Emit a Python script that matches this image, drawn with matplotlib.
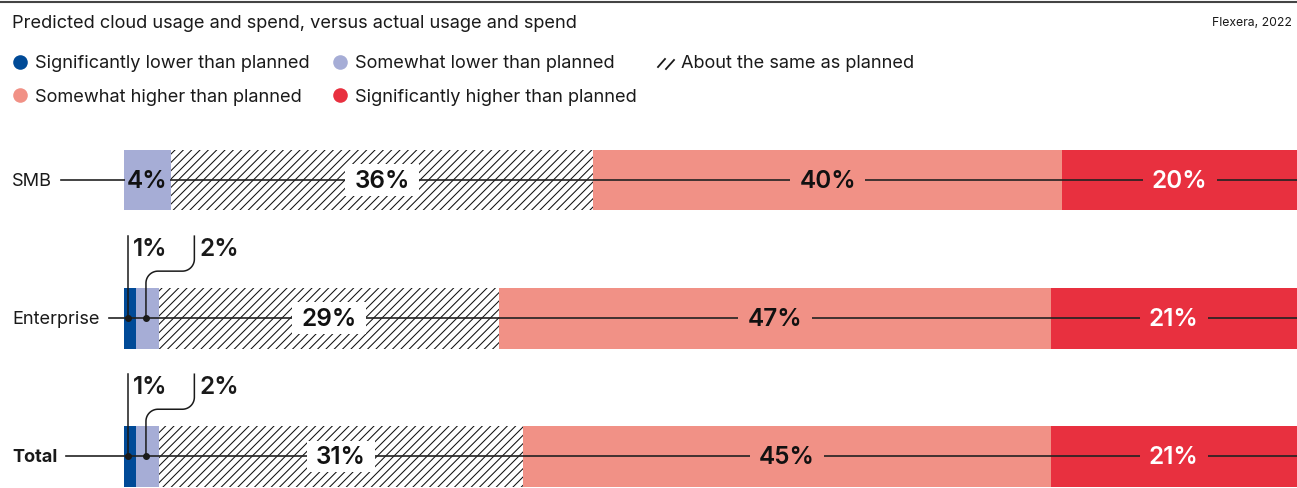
import numpy as np
import matplotlib.pyplot as plt

plt.rcParams['font.family'] = ['Inter', 'DejaVu Sans']
plt.rcParams['hatch.linewidth'] = 0.75

# data (percent of respondents)
groups = ['SMB', 'Enterprise', 'Total']
categories = ['Significantly lower than planned', 'Somewhat lower than planned',
              'About the same as planned', 'Somewhat higher than planned',
              'Significantly higher than planned']
sig_lower = [0, 1, 1]
some_lower = [4, 2, 2]
same = [36, 29, 31]
some_higher = [40, 47, 45]
sig_higher = [20, 21, 21]

title = 'Predicted cloud usage and spend, versus actual usage and spend'
source = 'Flexera, 2022'

colors = ['#004a97', '#a6add6', 'white', '#f19186', '#e8303f']
label_colors = ['#111111', '#111111', '#111111', '#111111', 'white']
ink = '#1a1a1a'
fs_text = 13.1
fs_pct = 17.5

W, H = 1297, 489
fig = plt.figure(figsize=(W / 100, H / 100), dpi=100)

# main axes: x in percent, one row per group
ax = fig.add_axes([124 / W, 0, 1 - 124 / W, (H - 112) / H])
ax.patch.set_visible(False)
ax.set_xlim(0, 100)
ax.set_ylim(2.23, -0.5)
ax.axis('off')

# overlay in pixel coords for title, legend, row labels, callouts
lay = fig.add_axes([0, 0, 1, 1], zorder=3)
lay.set_xlim(0, W)
lay.set_ylim(H, 0)
lay.axis('off')


def to_px(x, y):
    dx, dy = ax.transData.transform((x, y))
    return dx, H - dy


def to_data(px, py):
    return ax.transData.inverted().transform((px, H - py))


# header
lay.plot([0, W], [3, 3], color='#444444', lw=1.5, solid_capstyle='butt')
lay.text(12, 23.5, title, fontsize=fs_text, color=ink, va='center')
lay.text(1292, 23, source, fontsize=8.8, color=ink, va='center', ha='right')

# legend
leg_items = [(20, 63, 0), (340, 63, 1), (20, 96, 3), (340, 96, 4)]
for lx, ly, i in leg_items:
    lay.plot(lx, ly, 'o', ms=10.5, color=colors[i], mec='none')
    lay.text(lx + 15, ly + 1, categories[i], fontsize=fs_text, color=ink, va='center')
lay.plot([658, 665], [68, 60], color=ink, lw=1.3)
lay.plot([666, 674], [70, 61], color=ink, lw=1.3)
lay.text(681, 64, categories[2], fontsize=fs_text, color=ink, va='center')

# stacked bars
data = [sig_lower, some_lower, same, some_higher, sig_higher]
y = np.arange(len(groups))
left = np.zeros(len(groups))
for i, vals in enumerate(data):
    if i == 2:
        ax.barh(y, vals, left=left, height=0.44, color='white', edgecolor='#111111',
                hatch='////', linewidth=0, zorder=1)
    else:
        ax.barh(y, vals, left=left, height=0.44, color=colors[i], linewidth=0, zorder=1)
    left += np.array(vals)

renderer = fig.canvas.get_renderer()
px_per_pct = to_px(1, 0)[0] - to_px(0, 0)[0]

for j, g in enumerate(groups):
    _, yc = to_px(0, y[j])
    t = lay.text(12, yc, g, fontsize=fs_text, color=ink, va='center',
                 weight='bold' if g == 'Total' else 'normal')
    x_start = t.get_window_extent(renderer).x1 + 9
    ax.plot([to_data(x_start, yc)[0], 100], [y[j], y[j]], color='#222222', lw=1.2,
            zorder=2, clip_on=False)

    cum = 0
    k = 0
    prev_line = None
    for i, vals in enumerate(data):
        v = vals[j]
        if v == 0:
            continue
        mid = cum + v / 2
        cum += v
        if v >= 3:
            # narrow segments get a tight box so it stays inside the bar
            pad = 0.38 if v * px_per_pct > 80 else 0.08
            ax.text(mid, y[j], f'{v}%', ha='center', va='center', fontsize=fs_pct,
                    weight='semibold', color=label_colors[i], zorder=4,
                    bbox=dict(boxstyle=f'square,pad={pad}', fc=colors[i], ec='none',
                              mutation_aspect=0.45))
            continue
        # small segment: callout above the bar
        x0, _ = to_px(mid, y[j])
        x0 -= 1.5
        top = yc - 82
        if k == 0:
            lay.plot([x0, x0], [yc, top], color=ink, lw=1.1)
            line_x = x0
        else:
            line_x = prev_line + 66
            r = 12
            a = np.linspace(0, np.pi / 2, 20)
            xs = [x0, x0]
            ys = [yc, yc - 35]
            xs += list(x0 + r - r * np.cos(a))
            ys += list(yc - 35 - r * np.sin(a))
            xs += list(line_x - r + r * np.sin(a))
            ys += list(yc - 47 - r + r * np.cos(a))
            xs += [line_x]
            ys += [top]
            lay.plot(xs, ys, color=ink, lw=1.1)
        lay.plot(x0, yc, 'o', ms=4, color=ink)
        lay.text(line_x + 5, yc - 70, f'{v}%', fontsize=fs_pct, weight='semibold',
                 color=ink, va='center', ha='left')
        prev_line = line_x
        k += 1

fig.savefig('out.png', dpi=100)
